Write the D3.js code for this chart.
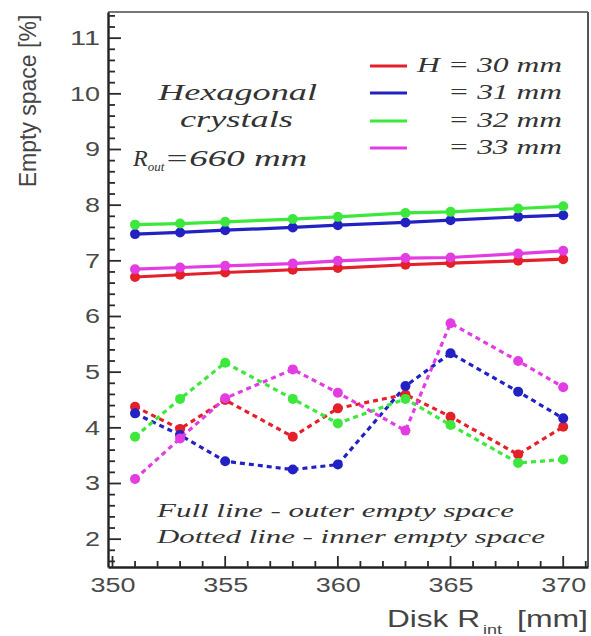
<!DOCTYPE html>
<html>
<head>
<meta charset="utf-8">
<script src="https://cdn.jsdelivr.net/npm/d3@7"></script>
<style>
  html, body { margin: 0; padding: 0; background: #fff; }
  svg { display: block; }
</style>
</head>
<body>
<svg id="chart" width="591" height="636"></svg>
<script>
// Inner radius of the disk [mm]
const rInt = [351, 353, 355, 358, 360, 363, 365, 368, 370];

// Crystal heights H [mm]
const heights = [30, 31, 32, 33];
const seriesColors = ["#e4202a", "#2222c4", "#3de83d", "#e23ce2"];

// Outer empty space [%] (full lines)
const outerH30 = [6.71, 6.75, 6.79, 6.84, 6.87, 6.93, 6.96, 7.00, 7.03];
const outerH31 = [7.48, 7.51, 7.55, 7.60, 7.64, 7.69, 7.73, 7.79, 7.82];
const outerH32 = [7.65, 7.67, 7.70, 7.75, 7.79, 7.86, 7.88, 7.94, 7.98];
const outerH33 = [6.85, 6.88, 6.91, 6.95, 7.00, 7.05, 7.06, 7.13, 7.18];

// Inner empty space [%] (dotted lines)
const innerH30 = [4.38, 3.98, 4.50, 3.84, 4.35, 4.60, 4.20, 3.52, 4.02];
const innerH31 = [4.26, 3.87, 3.40, 3.25, 3.34, 4.75, 5.34, 4.65, 4.17];
const innerH32 = [3.84, 4.52, 5.17, 4.52, 4.08, 4.52, 4.05, 3.37, 3.43];
const innerH33 = [3.08, 3.81, 4.53, 5.05, 4.63, 3.95, 5.88, 5.20, 4.73];

// Axis ticks
const xMajorTicks = [350, 355, 360, 365, 370];
const yMajorTicks = [2, 3, 4, 5, 6, 7, 8, 9, 10, 11];

const outer = [outerH30, outerH31, outerH32, outerH33];
const inner = [innerH30, innerH31, innerH32, innerH33];

const svg = d3.select("#chart");
const plotL = 108, plotR = 588, plotT = 12, plotB = 567;

const x = d3.scaleLinear().domain([349.8, 371.1]).range([plotL, plotR]);
const y = d3.scaleLinear().domain([1.5, 11.47]).range([plotB, plotT]);

const xMinor = d3.range(350, 372, 1).filter(v => !xMajorTicks.includes(v));
const yMinor = d3.range(16, 115, 2).map(v => v / 10).filter(v => !yMajorTicks.includes(v) && v <= 11.46);

// Frame: top and right edges
svg.append("line").attr("x1", plotL).attr("x2", plotR).attr("y1", plotT).attr("y2", plotT)
  .attr("stroke", "#777").attr("stroke-width", 2);
svg.append("line").attr("x1", plotR).attr("x2", plotR).attr("y1", plotT).attr("y2", plotB)
  .attr("stroke", "#555").attr("stroke-width", 2);

const tickFont = "'Liberation Sans', Arial, sans-serif";

// Axes: baseline and labels from d3-axis
const gx = svg.append("g").attr("transform", `translate(0,${plotB})`)
  .call(d3.axisBottom(x).tickValues(xMajorTicks).tickSize(0).tickPadding(11).tickFormat(d3.format("d")));
const gy = svg.append("g").attr("transform", `translate(${plotL},0)`)
  .call(d3.axisLeft(y).tickValues(yMajorTicks).tickSize(0).tickPadding(8).tickFormat(d3.format("d")));
[gx, gy].forEach(g => {
  g.selectAll(".domain").attr("stroke", "#222").attr("stroke-width", 2.4);
  g.selectAll(".tick text").attr("font-family", tickFont).attr("font-size", 20).attr("fill", "#4a4a4a")
    .attr("textLength", d => String(d).length * 15).attr("lengthAdjust", "spacingAndGlyphs");
});

// Inward tick marks
const tickG = svg.append("g").attr("stroke", "#2a2a2a").attr("stroke-width", 1.8);
tickG.selectAll("line.xmin").data(xMinor).join("line").attr("class", "xmin")
  .attr("x1", d => x(d)).attr("x2", d => x(d)).attr("y1", plotB).attr("y2", plotB - 6);
tickG.selectAll("line.xmaj").data(xMajorTicks).join("line").attr("class", "xmaj")
  .attr("x1", d => x(d)).attr("x2", d => x(d)).attr("y1", plotB).attr("y2", plotB - 11);
tickG.selectAll("line.ymin").data(yMinor).join("line").attr("class", "ymin")
  .attr("y1", d => y(d)).attr("y2", d => y(d)).attr("x1", plotL).attr("x2", plotL + 7);
tickG.selectAll("line.ymaj").data(yMajorTicks).join("line").attr("class", "ymaj")
  .attr("y1", d => y(d)).attr("y2", d => y(d)).attr("x1", plotL).attr("x2", plotL + 13);

// Axis titles
const titleStyle = t => t.attr("font-family", tickFont).attr("fill", "#444")
  .attr("lengthAdjust", "spacingAndGlyphs");
svg.append("text").attr("x", 387).attr("y", 627).attr("font-size", 24)
  .attr("textLength", 93).call(titleStyle).text("Disk R");
svg.append("text").attr("x", 483).attr("y", 634).attr("font-size", 13)
  .attr("textLength", 19).call(titleStyle).text("int");
svg.append("text").attr("x", 517).attr("y", 627).attr("font-size", 24)
  .attr("textLength", 71).call(titleStyle).text("[mm]");

svg.append("text").attr("transform", "translate(36,101) rotate(-90)").attr("text-anchor", "middle")
  .attr("font-family", tickFont).attr("font-size", 23).attr("fill", "#444")
  .text("Empty space [%]");

// Series
const line = d3.line().x((d, i) => x(rInt[i])).y(d => y(d));

heights.forEach((h, k) => {
  const c = seriesColors[k];
  svg.append("path").datum(inner[k]).attr("d", line).attr("fill", "none")
    .attr("stroke", c).attr("stroke-width", 3.2).attr("stroke-dasharray", "5,4");
  svg.append("g").selectAll("circle").data(inner[k]).join("circle")
    .attr("cx", (d, i) => x(rInt[i])).attr("cy", d => y(d)).attr("r", 5).attr("fill", c);
});

heights.forEach((h, k) => {
  const c = seriesColors[k];
  svg.append("path").datum(outer[k]).attr("d", line).attr("fill", "none")
    .attr("stroke", c).attr("stroke-width", 3.2);
  svg.append("g").selectAll("circle").data(outer[k]).join("circle")
    .attr("cx", (d, i) => x(rInt[i])).attr("cy", d => y(d)).attr("r", 5).attr("fill", c);
});

// Annotations
const serif = "'Liberation Serif', 'DejaVu Serif', serif";
function note(xp, yp, txt, size, len, anchor) {
  return svg.append("text").attr("x", xp).attr("y", yp)
    .attr("text-anchor", anchor || "start")
    .attr("font-family", serif).attr("font-style", "italic").attr("font-size", size)
    .attr("fill", "#333").attr("textLength", len).attr("lengthAdjust", "spacingAndGlyphs")
    .text(txt);
}
note(158, 100, "Hexagonal", 24, 159);
note(180, 127, "crystals", 24, 113);
const rt = svg.append("text").attr("x", 133).attr("y", 166)
  .attr("font-family", serif).attr("font-style", "italic").attr("font-size", 24).attr("fill", "#333");
rt.append("tspan").text("R");
rt.append("tspan").attr("font-size", 13).attr("dy", 5).text("out");
rt.append("tspan").attr("dy", -5).attr("textLength", 143).attr("lengthAdjust", "spacingAndGlyphs").text("=660 mm");

note(157, 517, "Full line - outer empty space", 19, 357);
note(157, 543, "Dotted line - inner empty space", 19, 388);

// Legend
const legendY = [66, 93, 121, 148];
const legendText = ["H = 30 mm", "= 31 mm", "= 32 mm", "= 33 mm"];
const legendLen = [145, 114, 114, 114];
heights.forEach((h, k) => {
  svg.append("line").attr("x1", 370).attr("x2", 407).attr("y1", legendY[k]).attr("y2", legendY[k])
    .attr("stroke", seriesColors[k]).attr("stroke-width", 3);
  note(562, legendY[k] + 6, legendText[k], 21, legendLen[k], "end");
});
</script>
</body>
</html>
